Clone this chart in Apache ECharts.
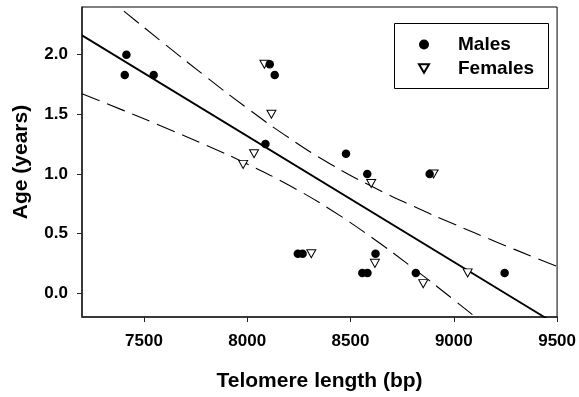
<!DOCTYPE html>
<html><head><meta charset="utf-8">
<script src="https://cdn.jsdelivr.net/npm/echarts@6/dist/echarts.min.js"></script>
<style>html,body{margin:0;padding:0;background:#fff}#c{width:579px;height:397px}</style>
</head><body><div id="c"></div>
<script>
// Data
var maleLength = [7415, 7407, 7547, 8109, 8133, 8088, 8478, 8581, 8883, 8245, 8268, 8621, 8557, 8582, 8816, 9246];
var maleAge    = [2.0, 1.83, 1.83, 1.92, 1.83, 1.25, 1.17, 1.0, 1.0, 0.33, 0.33, 0.33, 0.17, 0.17, 0.17, 0.17];
var femaleLength = [8083, 8117, 8033, 7980, 8600, 8902, 8310, 8618, 8852, 9067];
var femaleAge    = [1.92, 1.5, 1.17, 1.08, 0.92, 1.0, 0.33, 0.25, 0.08, 0.17];
var fitLength = [7200, 9500];
var fitAge    = [2.162, -0.266];
var bandLength = [7200, 7400, 7600, 7800, 8000, 8200, 8400, 8600, 8800, 9000, 9200, 9400, 9500];
var bandUpper  = [2.652, 2.369, 2.090, 1.815, 1.551, 1.305, 1.086, 0.898, 0.732, 0.580, 0.434, 0.293, 0.224];
var bandLower  = [1.672, 1.533, 1.390, 1.241, 1.083, 0.907, 0.704, 0.470, 0.214, -0.056, -0.334, -0.615, -0.756];
var xTicks = [7500, 8000, 8500, 9000, 9500];
var yTicks = [0.0, 0.5, 1.0, 1.5, 2.0];
var xTitle = 'Telomere length (bp)';
var yTitle = 'Age (years)';
var seriesNames = ['Males', 'Females'];

function pairs(xs, ys) { return xs.map(function (x, i) { return [x, ys[i]]; }); }

var FONT = '"Liberation Sans", Arial, Helvetica, sans-serif';
var TRI = 'path://M0,0L10,0L5,8.66Z';

var chart = echarts.init(document.getElementById('c'), null, {renderer: 'canvas'});
chart.setOption({
  animation: false,
  backgroundColor: '#fff',
  grid: {left: 82, right: 20, top: 7, bottom: 76, show: true, borderColor: '#000', borderWidth: 1, backgroundColor: 'transparent'},
  xAxis: {
    type: 'value', min: 7200, max: 9500,
    name: xTitle, nameLocation: 'middle', nameGap: 54,
    nameTextStyle: {fontFamily: FONT, fontWeight: 'bold', fontSize: 21, color: '#000'},
    axisLine: {show: true, onZero: false, lineStyle: {color: '#222', width: 1.5}},
    axisTick: {show: true, length: 5, customValues: xTicks, lineStyle: {color: '#222', width: 1}},
    axisLabel: {customValues: xTicks, margin: 16, fontFamily: FONT, fontWeight: 'bold', fontSize: 17, color: '#000',
      formatter: function (v) { return String(Math.round(v)); }},
    splitLine: {show: false}
  },
  yAxis: {
    type: 'value', min: -0.2, max: 2.4,
    name: yTitle, nameLocation: 'middle', nameGap: 50, nameRotate: 90,
    nameTextStyle: {fontFamily: FONT, fontWeight: 'bold', fontSize: 21, color: '#000'},
    axisLine: {show: true, onZero: false, lineStyle: {color: '#222', width: 1.5}},
    axisTick: {show: true, length: 5, customValues: yTicks, lineStyle: {color: '#222', width: 1}},
    axisLabel: {customValues: yTicks, margin: 14, fontFamily: FONT, fontWeight: 'bold', fontSize: 17, color: '#000',
      formatter: function (v) { return Number(v).toFixed(1); }},
    splitLine: {show: false}
  },
  legend: {
    left: 413, top: 30, orient: 'vertical', itemGap: 5, itemWidth: 10, itemHeight: 10,
    data: [{name: seriesNames[0], icon: 'circle'}, {name: seriesNames[1], icon: TRI}],
    textStyle: {fontFamily: FONT, fontWeight: 'bold', fontSize: 19, color: '#000', padding: [0, 0, 0, 24]}
  },
  graphic: [{
    type: 'rect', left: 392, top: 21, z: 100,
    shape: {width: 154, height: 65},
    style: {fill: 'none', stroke: '#000', lineWidth: 1}
  }],
  series: [
    {type: 'line', name: 'fit', data: pairs(fitLength, fitAge), showSymbol: false, clip: true,
      lineStyle: {color: '#000', width: 1.8}, silent: true, z: 2},
    {type: 'line', name: 'upper', data: pairs(bandLength, bandUpper), showSymbol: false, smooth: true, clip: true,
      lineStyle: {color: '#000', width: 1.1, type: [19, 8]}, silent: true, z: 2},
    {type: 'line', name: 'lower', data: pairs(bandLength, bandLower), showSymbol: false, smooth: true, clip: true,
      lineStyle: {color: '#000', width: 1.1, type: [19, 8]}, silent: true, z: 2},
    {type: 'scatter', name: seriesNames[1], data: pairs(femaleLength, femaleAge), symbol: TRI, symbolSize: [9, 8],
      itemStyle: {color: '#fff', borderColor: '#000', borderWidth: 1, opacity: 1}, z: 3},
    {type: 'scatter', name: seriesNames[0], data: pairs(maleLength, maleAge), symbol: 'circle', symbolSize: 8.5,
      itemStyle: {color: '#000', opacity: 1}, z: 4}
  ]
});
</script></body></html>
